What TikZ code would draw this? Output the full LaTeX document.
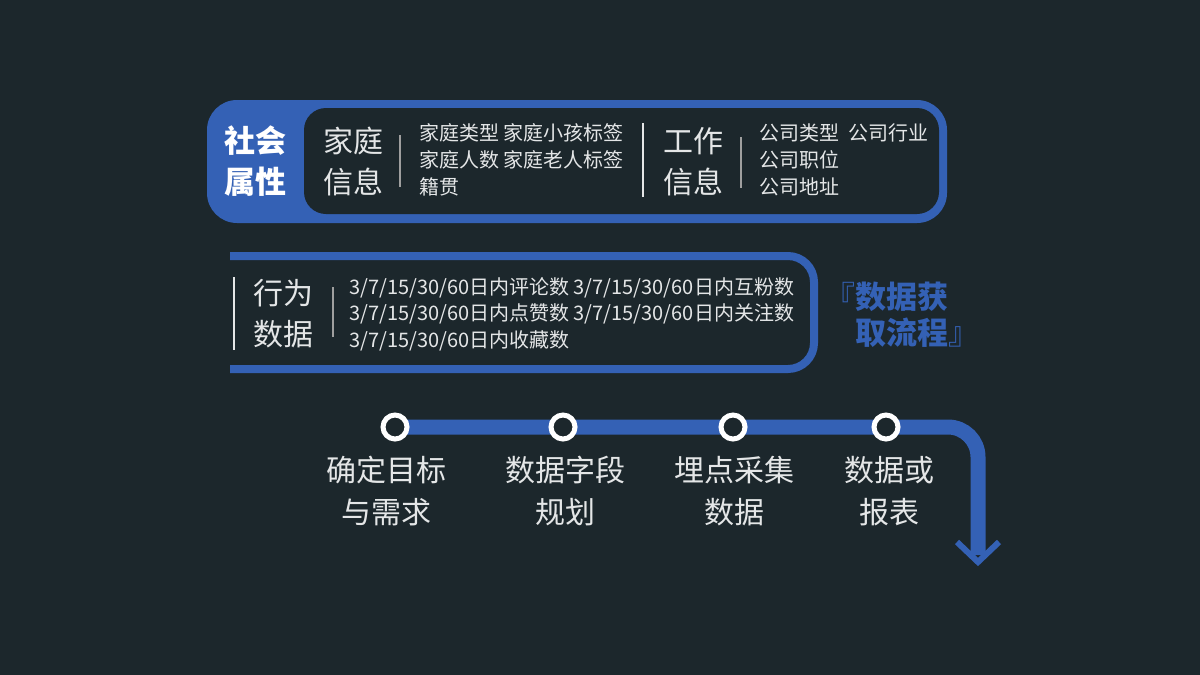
\documentclass[tikz,border=0pt]{standalone}
\usepackage{fontspec}
\setmainfont{Noto Sans CJK SC}
\usetikzlibrary{backgrounds}

\definecolor{bgdark}{HTML}{1C272C}
\definecolor{flowblue}{HTML}{3461B5}
\definecolor{softwhite}{HTML}{E4E6E7}

\begin{document}
\begin{tikzpicture}[x=1pt, y=-1pt]

    % --- Styles ---
    \tikzset{
        % Grosse Beschriftungen (zweizeilig)
        biglabel/.style={
            text=softwhite,
            font=\fontsize{30}{41}\selectfont,
            align=center,
            inner sep=0pt
        },
        % Kleine Aufzaehlungen
        smalllist/.style={
            text=softwhite,
            font=\fontsize{20}{27}\selectfont,
            align=left,
            anchor=west,
            inner sep=0pt
        },
        % Trennlinien
        thinsep/.style={
            draw=gray!75,
            line width=1.2pt
        },
        thicksep/.style={
            draw=softwhite,
            line width=2.8pt
        },
        % Blaue Rahmen und Pfeil
        frameline/.style={
            draw=flowblue,
            line width=8pt
        },
        flowline/.style={
            draw=flowblue,
            line width=15pt
        },
        % Stationen auf dem Zeitstrahl
        station/.style={
            circle,
            draw=white,
            fill=bgdark,
            line width=5pt,
            minimum size=24pt,
            inner sep=0pt
        },
        steplabel/.style={
            text=softwhite,
            font=\fontsize{30}{42}\selectfont,
            align=center,
            inner sep=0pt
        }
    }

    % Hintergrund
    \begin{scope}[on background layer]
        \fill[bgdark] (0,0) rectangle (1200,675);
    \end{scope}
    \useasboundingbox (0,0) rectangle (1200,675);

    % --- 1. Soziale Attribute ---
    \fill[flowblue, rounded corners=30pt] (207,100) rectangle (947,223);
    \fill[bgdark, rounded corners=22pt] (304,108) rectangle (939,214);

    \node[biglabel, text=white, font=\fontsize{31}{41}\selectfont\bfseries] (social) at (255,161) {社会\\属性};

    \node[biglabel] (family) at (353,162) {家庭\\信息};
    \draw[thinsep] (400,135) -- (400,187);
    \node[smalllist] (familylist) at (419,160) {家庭类型 家庭小孩标签\\家庭人数 家庭老人标签\\籍贯};

    \draw[thicksep] (643,123) -- (643,197);

    \node[biglabel] (work) at (693,162) {工作\\信息};
    \draw[thinsep] (741,137) -- (741,188);
    \node[smalllist] (worklist) at (759,160) {公司类型 \ 公司行业\\公司职位\\公司地址};

    % --- 2. Verhaltensdaten ---
    \draw[frameline, rounded corners=26pt] (230,256) -- (814,256) -- (814,369) -- (230,369);

    \draw[thicksep] (234,277) -- (234,350);
    \node[biglabel] (behavior) at (283,314) {行为\\数据};
    \draw[thinsep] (333,287) -- (333,337);
    \node[smalllist, font=\fontsize{20}{26.5}\selectfont] (behaviorlist) at (349,314)
        {3/7/15/30/60日内评论数 3/7/15/30/60日内互粉数\\
         3/7/15/30/60日内点赞数 3/7/15/30/60日内关注数\\
         3/7/15/30/60日内收藏数};

    % Titel
    \node[text=flowblue, font=\fontsize{31}{36}\selectfont\bfseries, align=left, inner sep=0pt]
        (title) at (902,315) {{\mdseries 『}数据获\\\hphantom{『}取流程{\mdseries 』}};

    % --- 3. Zeitstrahl ---
    \node[station] (c1) at (395,427) {};
    \node[station] (c2) at (563,427) {};
    \node[station] (c3) at (733,427) {};
    \node[station] (c4) at (886,427) {};
    \coordinate (corner) at (978,427);
    \coordinate (tip) at (978,562);

    % Linie hinter den Stationen
    \begin{scope}[on background layer]
        \draw[flowline, rounded corners=30pt] (c1.center) -- (c4.center) -- (corner) -- ([yshift=7pt]tip);
    \end{scope}
    \draw[draw=flowblue, line width=6pt] (tip) ++(-21,-20) -- (tip) -- ++(21,-20);

    \node[steplabel] (goal) at (386,491) {确定目标\\与需求};
    \node[steplabel] (fields) at (565,491) {数据字段\\规划};
    \node[steplabel] (track) at (734,491) {埋点采集\\数据};
    \node[steplabel] (report) at (889,491) {数据或\\报表};

\end{tikzpicture}
\end{document}
